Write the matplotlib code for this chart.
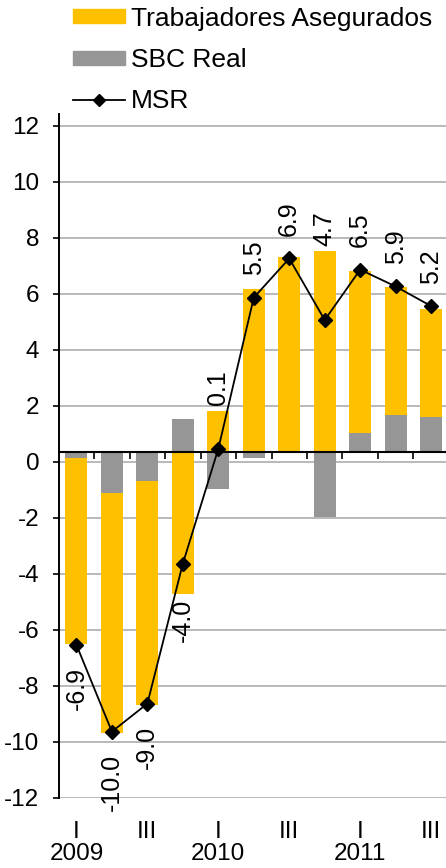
import numpy as np
import matplotlib
matplotlib.use("Agg")
import matplotlib.pyplot as plt
from matplotlib.lines import Line2D
from matplotlib.patches import Patch

plt.rcParams['font.family'] = ['Liberation Sans', 'DejaVu Sans']
plt.rcParams['axes.unicode_minus'] = False

# quarters 2009-I .. 2011-III
quarters = ['I\n2009', '', 'III', '', 'I\n2010', '', 'III', '', 'I\n2011', '', 'III']
trabajadores = [-6.64, -8.6, -8.0, -5.07, 1.45, 5.8, 6.95, 7.16, 5.78, 4.57, 3.84]
sbc_real = [-0.22, -1.46, -1.05, 1.16, -1.32, -0.24, 0.0, -2.32, 0.68, 1.31, 1.25]
msr = [-6.9, -10.0, -9.0, -4.0, 0.1, 5.5, 6.9, 4.7, 6.5, 5.9, 5.2]

yellow = '#FFC000'
gray = '#969696'

x = np.arange(len(quarters))
trab = np.array(trabajadores)
sbc = np.array(sbc_real)

fig = plt.figure(figsize=(4.46, 8.68), dpi=100)
ax = fig.add_axes([58.7/446, 1-797.7/868, 1-58.7/446, (797.7-114)/868])

# primary axis: scale, grid, labels
ax.set_ylim(-12, 12.42)
ax.set_yticks(np.arange(-12, 13, 2))
ax.yaxis.grid(True, color='#A6A6A6', lw=1.1)
ax.set_axisbelow(True)
for s in ['top', 'right', 'bottom']:
    ax.spines[s].set_visible(False)
ax.spines['left'].set_linewidth(1.4)
ax.tick_params(axis='y', direction='out', length=4, width=1.2, pad=10, labelsize=17.5)
ax.set_xlim(-0.5, len(x) - 0.58)
ax.set_xticks(x)
ax.set_xticklabels(quarters, fontsize=17.5, linespacing=1.0)
ax.set_xticks(x[:-1] + 0.5, minor=True)
ax.tick_params(axis='x', which='major', length=0, pad=17)
ax.tick_params(axis='x', which='minor', length=0)

# secondary axis holding the data, zero shifted up
ax2 = ax.twinx()
off = 0.36
ax2.set_ylim(-12 - off, 12.42 - off)
ax2.yaxis.set_visible(False)
ax2.xaxis.set_visible(True)
for s in ['top', 'right', 'left']:
    ax2.spines[s].set_visible(False)
ax2.spines['bottom'].set_position(('data', 0))
ax2.spines['bottom'].set_linewidth(1.5)
ax2.tick_params(axis='x', which='major', length=0, labelbottom=False)
ax2.tick_params(axis='x', which='minor', direction='out', length=5, width=1.2)

w = 0.62
ax2.bar(x, sbc, w, color=gray, zorder=2)
ybot = np.where(np.sign(trab) == np.sign(sbc), sbc, 0)
ax2.bar(x, trab, w, bottom=ybot, color=yellow, zorder=2)
ax2.plot(x, msr, color='black', lw=1.3, marker='D', markersize=7, zorder=3)

tops = np.clip(sbc, 0, None) + np.clip(trab, 0, None)
bots = np.clip(sbc, None, 0) + np.clip(trab, None, 0)
for i, v in enumerate(msr):
    if v >= 0:
        y = max(v + 0.8, tops[i] + 0.2)
        va = 'bottom'
    else:
        y = min(v - 0.8, bots[i] - 0.2)
        va = 'top'
    ax2.text(x[i], y, f"{v:.1f}", rotation=90, ha='center', va=va, fontsize=18, zorder=4)

handles = [Patch(color=yellow), Patch(color=gray),
           Line2D([], [], color='black', lw=1.3, marker='D', markersize=6)]
fig.legend(handles, ['Trabajadores Asegurados', 'SBC Real', 'MSR'],
           loc='upper left', bbox_to_anchor=(70/446, 1 - 4/868), frameon=False,
           fontsize=19, handlelength=2.0, handleheight=0.45, handletextpad=0.2,
           labelspacing=0.66, borderpad=0.1, borderaxespad=0)

fig.savefig('out.png', dpi=100)
